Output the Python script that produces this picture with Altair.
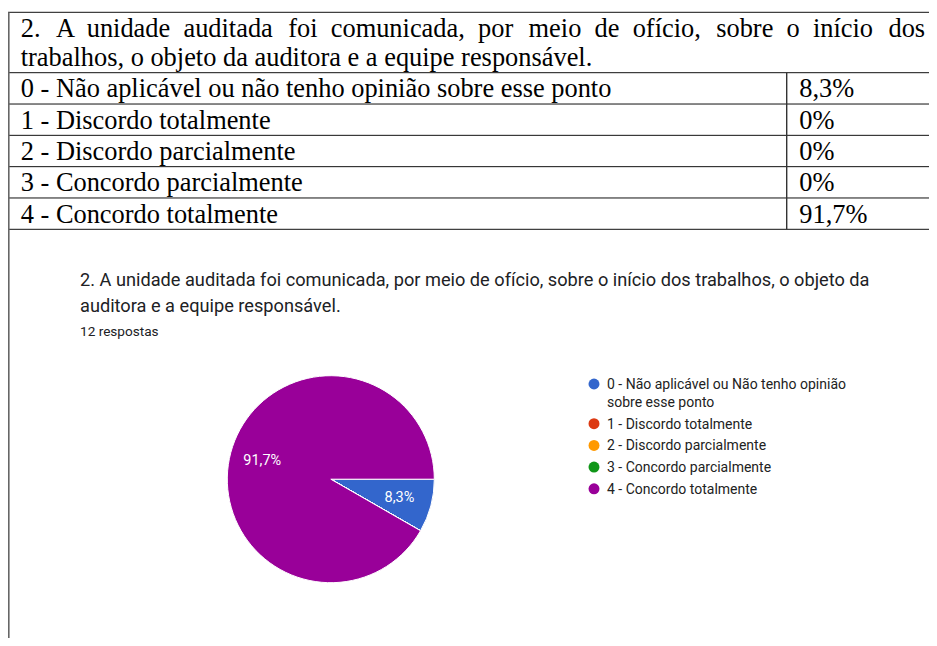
import math
import altair as alt
import pandas as pd

# ---------------- data ----------------
table_title_lines = [
    "2. A unidade auditada foi comunicada, por meio de ofício, sobre o início dos",
    "trabalhos, o objeto da auditora e a equipe responsável.",
]
table_categories = [
    "0 - Não aplicável ou não tenho opinião sobre esse ponto",
    "1 - Discordo totalmente",
    "2 - Discordo parcialmente",
    "3 - Concordo parcialmente",
    "4 - Concordo totalmente",
]
table_percent_labels = ["8,3%", "0%", "0%", "0%", "91,7%"]

chart_title_lines = [
    "2. A unidade auditada foi comunicada, por meio de ofício, sobre o início dos trabalhos, o objeto da",
    "auditora e a equipe responsável.",
]
responses_label = "12 respostas"

legend_categories = [
    "0 - Não aplicável ou Não tenho opinião sobre esse ponto",
    "1 - Discordo totalmente",
    "2 - Discordo parcialmente",
    "3 - Concordo parcialmente",
    "4 - Concordo totalmente",
]
legend_lines = [
    ["0 - Não aplicável ou Não tenho opinião", "sobre esse ponto"],
    ["1 - Discordo totalmente"],
    ["2 - Discordo parcialmente"],
    ["3 - Concordo parcialmente"],
    ["4 - Concordo totalmente"],
]
percent_values = [8.3, 0.0, 0.0, 0.0, 91.7]
pie_labels = ["8,3%", "", "", "", "91,7%"]
colors = ["#3366cc", "#dc3912", "#ff9900", "#109618", "#990099"]

# ---------------- layout ----------------
W, H = 921, 630
OX, OY = 8, 8  # page margin


def px(v):
    return v - OX


def py(v):
    return v - OY


SERIF = "Liberation Serif"
SANS = "Roboto"
TFS = 26.4  # table font size

table_y = alt.Scale(domain=[0, 5], range=[py(72.7), py(229.3)])

# justified first line of the table header (wider word gaps)
_words = table_title_lines[0].split(" ")
_gaps = [" \u00a0\u200a" if i % 3 == 0 else " \u00a0" for i in range(len(_words) - 1)]
justified_first = _words[0] + "".join(g + w for g, w in zip(_gaps, _words[1:]))
justified_title = [justified_first, table_title_lines[1]]

# ---------------- table ----------------
rows_df = pd.DataFrame({
    "idx": list(range(len(table_categories))),
    "cat": table_categories,
    "pct": table_percent_labels,
})
rows_df["ub"] = rows_df["idx"] + 0.79

hlines_df = pd.DataFrame({"u": list(range(len(table_categories) + 1))})
divider_df = pd.DataFrame({"u0": [0], "u1": [len(table_categories)]})

base_dummy = pd.DataFrame({"d": [0]})

top_border = alt.Chart(base_dummy).mark_rule(color="#111", strokeWidth=1).encode(
    x=alt.value(0), x2=alt.value(W), y=alt.value(py(12.3))
)
left_border = alt.Chart(base_dummy).mark_rule(color="#666", strokeWidth=1.6).encode(
    x=alt.value(0.8), y=alt.value(py(12.3)), y2=alt.value(H)
)
hlines = alt.Chart(hlines_df).mark_rule(color="#111", strokeWidth=1).encode(
    x=alt.value(0), x2=alt.value(W),
    y=alt.Y("u:Q", scale=table_y, axis=None),
)
divider = alt.Chart(divider_df).mark_rule(color="#333", strokeWidth=1.4).encode(
    x=alt.value(px(786.7)),
    y=alt.Y("u0:Q", scale=table_y, axis=None),
    y2="u1:Q",
)

table_title = alt.Chart(pd.DataFrame({"t": ["\n".join(justified_title)]})).mark_text(
    font=SERIF, fontSize=TFS, color="#000", align="left", baseline="alphabetic",
    lineBreak="\n", lineHeight=28.4,
).encode(x=alt.value(px(20.7)), y=alt.value(py(37.3)), text="t:N")

row_text = alt.Chart(rows_df).mark_text(
    font=SERIF, fontSize=TFS, color="#000", align="left", baseline="alphabetic",
).encode(
    x=alt.value(px(20.7)),
    y=alt.Y("ub:Q", scale=table_y, axis=None),
    text="cat:N",
)
pct_text = alt.Chart(rows_df).mark_text(
    font=SERIF, fontSize=TFS, color="#000", align="left", baseline="alphabetic",
).encode(
    x=alt.value(px(799.3)),
    y=alt.Y("ub:Q", scale=table_y, axis=None),
    text="pct:N",
)

# ---------------- chart header ----------------
chart_title = alt.Chart(pd.DataFrame({"t": ["\n".join(chart_title_lines)]})).mark_text(
    font=SANS, fontSize=18.2, color="#202124", align="left", baseline="alphabetic",
    lineBreak="\n", lineHeight=26,
).encode(x=alt.value(px(80)), y=alt.value(py(286)), text="t:N")

responses = alt.Chart(pd.DataFrame({"t": [responses_label]})).mark_text(
    font=SANS, fontSize=13.6, color="#202124", align="left", baseline="alphabetic",
).encode(x=alt.value(px(80)), y=alt.value(py(336)), text="t:N")

# ---------------- pie ----------------
pie_df = pd.DataFrame({
    "idx": list(range(len(legend_categories))),
    "cat": legend_categories,
    "value": percent_values,
    "label": pie_labels,
})
color_scale = alt.Scale(domain=legend_categories, range=colors)
theta_scale = alt.Scale(range=[math.pi / 2, math.pi / 2 + 2 * math.pi])
CX, CY, R = px(330.8), py(479.2), 103.5

pie = alt.Chart(pie_df).mark_arc(radius=R, stroke="#ffffff", strokeWidth=1).encode(
    theta=alt.Theta("value:Q", stack=True, scale=theta_scale),
    color=alt.Color("cat:N", scale=color_scale, legend=None),
    order=alt.Order("idx:Q"),
    x=alt.value(CX), y=alt.value(CY),
)
pie_text = alt.Chart(pie_df).mark_text(
    radius=71, font=SANS, fontSize=14.5, color="#ffffff", align="center", baseline="middle",
).encode(
    theta=alt.Theta("value:Q", stack=True, scale=theta_scale),
    order=alt.Order("idx:Q"),
    text="label:N",
    x=alt.value(CX), y=alt.value(CY),
)

# ---------------- legend ----------------
LEG_TOP, ITEM_PITCH, EXTRA_LINE = py(384.0), 21.7, 18.0
ly = []
acc = LEG_TOP
for i, lines in enumerate(legend_lines):
    ly.append(acc)
    acc += ITEM_PITCH + (len(lines) - 1) * EXTRA_LINE
leg_df = pd.DataFrame({
    "cat": legend_categories,
    "text": ["\n".join(l) for l in legend_lines],
    "ly": ly,
})
leg_df["tb"] = leg_df["ly"] + 4.9

leg_sym = alt.Chart(leg_df).mark_point(filled=True, shape="circle", size=120, opacity=1).encode(
    x=alt.value(px(594)),
    y=alt.Y("ly:Q", scale=None),
    color=alt.Color("cat:N", scale=color_scale, legend=None),
)
leg_txt = alt.Chart(leg_df).mark_text(
    font=SANS, fontSize=14, color="#222222", align="left", baseline="alphabetic",
    lineBreak="\n", lineHeight=18,
).encode(
    x=alt.value(px(607)),
    y=alt.Y("tb:Q", scale=None),
    text="text:N",
)

chart = alt.layer(
    top_border, hlines, divider, left_border,
    table_title, row_text, pct_text,
    chart_title, responses,
    pie, pie_text,
    leg_sym, leg_txt,
).properties(
    width=W, height=H, padding=0,
    autosize=alt.AutoSizeParams(type="none"),
    background="#ffffff",
).configure_view(stroke=None)

chart.save("out.html", embed_options={"renderer": "svg", "actions": False})
